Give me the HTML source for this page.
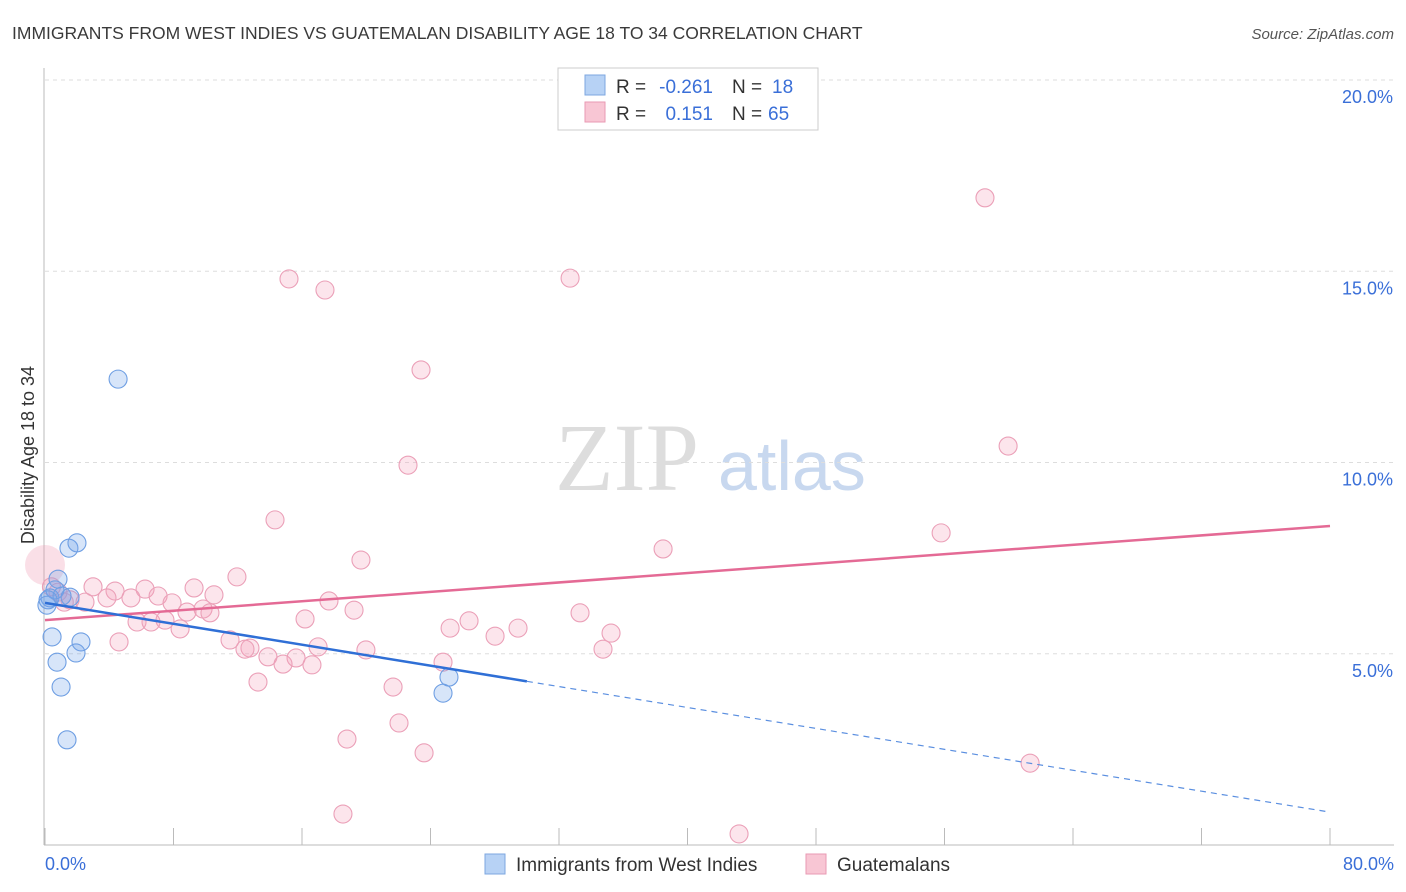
<!DOCTYPE html>
<html><head><meta charset="utf-8"><style>
body{margin:0;background:#fff;font-family:"Liberation Sans",sans-serif}
</style></head><body>
<svg width="1406" height="892" viewBox="0 0 1406 892" style="display:block">
<text x="12" y="39" font-size="17.5" fill="#3a3a3a">IMMIGRANTS FROM WEST INDIES VS GUATEMALAN DISABILITY AGE 18 TO 34 CORRELATION CHART</text>
<text x="1394" y="39" font-size="15" fill="#555" font-style="italic" text-anchor="end">Source: ZipAtlas.com</text>
<text x="555" y="490" font-size="96" fill="#ddd" font-family="Liberation Serif,serif">ZIP</text>
<text x="718" y="490" font-size="70" fill="#c8d8ef">atlas</text>
<g id="grid"></g>
<g id="axes"></g>
<g id="marks"></g>
<text x="34" y="455" font-size="18" fill="#333" transform="rotate(-90 34 455)" text-anchor="middle">Disability Age 18 to 34</text>
<g>
<rect x="558" y="68" width="260" height="62" fill="#fff" stroke="#ccc"/>
<rect x="585" y="75" width="20" height="20" fill="#b7d2f5" stroke="#7ea7e0"/>
<rect x="585" y="102" width="20" height="20" fill="#f8c6d4" stroke="#e99ab3"/>
<text x="616" y="93" font-size="19" fill="#333">R =</text>
<text x="713" y="93" font-size="19" fill="#3a6fd8" text-anchor="end">-0.261</text>
<text x="732" y="93" font-size="19" fill="#333">N =</text>
<text x="772" y="93" font-size="19" fill="#3a6fd8">18</text>
<text x="616" y="120" font-size="19" fill="#333">R =</text>
<text x="713" y="120" font-size="19" fill="#3a6fd8" text-anchor="end">0.151</text>
<text x="732" y="120" font-size="19" fill="#333">N =</text>
<text x="768" y="120" font-size="19" fill="#3a6fd8">65</text>
</g>
<g>
<rect x="485" y="854" width="20" height="20" fill="#b7d2f5" stroke="#7ea7e0"/>
<text x="516" y="871" font-size="19" fill="#333">Immigrants from West Indies</text>
<rect x="806" y="854" width="20" height="20" fill="#f8c6d4" stroke="#e99ab3"/>
<text x="837" y="871" font-size="19" fill="#333">Guatemalans</text>
</g>
</svg>
<script>
const yTicks=[5,10,15,20];
const yTickLabels=["5.0%","10.0%","15.0%","20.0%"];
const xTickLabels=["0.0%","80.0%"];
const blueX=[4.55,1.49,1.99,0.81,0.62,0.31,0.12,1.06,1.56,0.44,2.24,0.75,1.93,1.00,1.37,25.15,24.78,0.19];
const blueY=[12.18,7.76,7.90,6.95,6.67,6.46,6.27,6.51,6.48,5.44,5.31,4.78,5.02,4.13,2.75,4.39,3.97,6.41];
const pinkX=[58.52,15.19,17.43,32.69,23.41,22.60,59.96,14.32,55.79,38.48,19.67,11.95,2.99,6.23,9.28,4.36,5.35,7.04,10.52,1.56,2.49,3.86,7.91,9.84,8.84,10.27,17.68,19.24,33.31,26.40,16.19,5.73,7.47,6.60,8.41,25.22,29.45,35.24,28.02,4.61,11.52,12.76,12.45,17.00,19.98,34.74,13.88,15.63,14.82,16.62,24.78,13.26,21.67,22.04,18.80,23.60,61.33,18.55,43.21,0.81,1.20,0.4];
const pinkY=[16.92,14.80,14.51,14.82,12.42,9.93,10.43,8.50,8.16,7.74,7.45,7.01,6.75,6.69,6.72,6.64,6.46,6.51,6.54,6.41,6.35,6.46,6.33,6.17,6.09,6.07,6.38,6.14,6.07,5.86,5.91,5.83,5.88,5.83,5.65,5.67,5.67,5.54,5.46,5.31,5.36,5.15,5.12,5.18,5.10,5.12,4.92,4.89,4.73,4.71,4.78,4.26,4.13,3.19,2.77,2.41,2.14,0.81,0.29,6.61,6.35,6.75];
const pinkBig=[0,7.32];
const blueTrend=[6.33,0.86];
const blueSolidEnd=30;
const pinkTrend=[5.88,8.34];
const NS="http://www.w3.org/2000/svg";
const X=v=>45+v/80*1285, Y=v=>845-v/20*765;
function mk(tag,attrs,parent){const e=document.createElementNS(NS,tag);for(const k in attrs)e.setAttribute(k,attrs[k]);parent.appendChild(e);return e;}
const grid=document.getElementById('grid'),axes=document.getElementById('axes'),marks=document.getElementById('marks');
yTicks.forEach((t,i)=>{
 const l=mk('line',{x1:45,x2:1394,y1:Y(t),y2:Y(t),stroke:'#ddd','stroke-dasharray':'4,4'},grid);
 
 
 const tx=mk('text',{x:1393,y:Y(t)+23,'font-size':18,fill:'#3a6fd8','text-anchor':'end'},axes);
 tx.textContent=yTickLabels[i];
 
 
});
const al=mk('line',{x1:44,x2:44,y1:68,y2:845,stroke:'#bbb'},axes);


const bl=mk('line',{x1:44,x2:1394,y1:845,y2:845,stroke:'#bbb'},axes);


for(let i=0;i<=10;i++){
 const t=mk('line',{x1:X(i*8),x2:X(i*8),y1:828,y2:845,stroke:'#bbb'},axes);
 
 
}
[[0,'start',45],[80,'end',1394]].forEach((a,i)=>{
 const tx=mk('text',{x:a[2],y:870,'font-size':18,fill:'#3a6fd8','text-anchor':a[1]},axes);
 tx.textContent=xTickLabels[i];
 
 
});
const big=mk('circle',{cx:X(pinkBig[0]),cy:Y(pinkBig[1]),r:20,fill:'rgba(240,150,175,0.3)',stroke:'none'},marks);


pinkX.forEach((x,i)=>{
 const c=mk('circle',{cx:X(x),cy:Y(pinkY[i]),r:9,fill:'rgba(244,160,185,0.28)',stroke:'#eba0b8','stroke-width':1.1},marks);
 
 
});
blueX.forEach((x,i)=>{
 const c=mk('circle',{cx:X(x),cy:Y(blueY[i]),r:9,fill:'rgba(110,160,235,0.28)',stroke:'#6f9fe3','stroke-width':1.1},marks);
 
 
});
const bAt=v=>blueTrend[0]+(blueTrend[1]-blueTrend[0])*v/80;
const pt=mk('line',{x1:X(0),y1:Y(pinkTrend[0]),x2:X(80),y2:Y(pinkTrend[1]),stroke:'#e46a95','stroke-width':2.5},marks);


const bt=mk('line',{x1:X(0),y1:Y(bAt(0)),x2:X(blueSolidEnd),y2:Y(bAt(blueSolidEnd)),stroke:'#2f6fd6','stroke-width':2.5},marks);


const bd=mk('line',{x1:X(blueSolidEnd),y1:Y(bAt(blueSolidEnd)),x2:X(80),y2:Y(bAt(80)),stroke:'#5b8fe0','stroke-width':1.2,'stroke-dasharray':'6,5'},marks);


</script>
</body></html>
